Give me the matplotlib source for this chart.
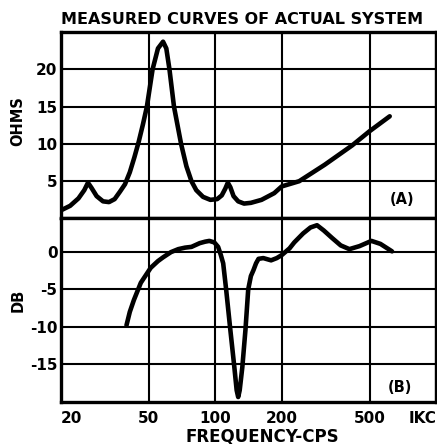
import matplotlib
matplotlib.use("Agg")
import matplotlib.pyplot as plt

# curve (A): impedance, ohms
freq_a = [20, 22, 24, 25.5, 26.5, 27.5, 29, 31, 33, 35, 37, 39, 41, 43, 45, 47, 49,
          52, 55, 58, 60, 62, 65, 70, 74, 78, 82, 88, 95, 102, 107, 111, 114, 117,
          121, 127, 135, 145, 162, 185, 200, 240, 313, 417, 500, 617]
ohms = [1.1, 1.7, 2.7, 3.8, 4.8, 4.1, 3.0, 2.3, 2.2, 2.6, 3.6, 4.6, 6.2, 8.2, 10.3, 12.6, 15.0,
        20.0, 22.8, 23.7, 22.8, 20.0, 15.0, 10.0, 7.0, 5.0, 3.8, 2.9, 2.5, 2.6, 3.1, 4.0, 4.8, 4.2,
        3.0, 2.3, 2.0, 2.1, 2.5, 3.4, 4.3, 5.0, 7.2, 9.8, 11.7, 13.7]

# curve (B): response, db
freq_b = [39.6, 41, 42.8, 46, 51, 55, 58, 63, 68, 73, 78, 85, 90, 94, 99, 103, 106, 108.6,
          112, 117, 122, 125, 127, 129, 132.6, 137, 141, 145, 149, 153, 157, 165, 179, 190,
          200, 217, 228, 250, 270, 289, 310, 338, 370, 405, 450, 510, 560, 632]
db = [-9.8, -8.0, -6.4, -4.1, -2.1, -1.2, -0.7, 0.0, 0.4, 0.6, 0.7, 1.2, 1.4, 1.5, 1.3, 0.7, -0.4, -1.5,
      -5.0, -10.4, -15.4, -18.5, -19.4, -18.5, -15.4, -10.4, -5.0, -3.2, -2.4, -1.5, -0.9, -0.8, -1.1, -0.8,
      -0.4, 0.5, 1.3, 2.5, 3.3, 3.6, 2.9, 1.9, 0.9, 0.4, 0.8, 1.5, 1.1, 0.1]

x_ticks = [20, 50, 100, 200, 500, 1000]
x_labels = ["20", "50", "100", "200", "500", "IKC"]
ohm_ticks = [5, 10, 15, 20]
db_ticks = [-15, -10, -5, 0]

plt.rcParams["font.family"] = "DejaVu Sans"
plt.rcParams["font.weight"] = "bold"
plt.rcParams["axes.unicode_minus"] = False

W, H = 437, 444
fig = plt.figure(figsize=(W / 100, H / 100), dpi=100)

left = 61 / W
width = 375 / W
ax1 = fig.add_axes([left, 1 - 218.5 / H, width, 186.5 / H])
ax2 = fig.add_axes([left, 1 - 401.5 / H, width, 183 / H], sharex=ax1)

line_kw = dict(color="black", lw=3.3, solid_capstyle="round", solid_joinstyle="round", zorder=3)
ax1.plot(freq_a, ohms, **line_kw)
ax2.plot(freq_b, db, **line_kw)

for ax in (ax1, ax2):
    ax.set_xscale("log")
    ax.set_xlim(20, 1000)
    ax.grid(True, color="black", lw=1.5)
    ax.tick_params(length=0, labelsize=11, pad=2.5)
    for s in ax.spines.values():
        s.set_linewidth(2.4)

ax1.set_ylim(0, 25)
ax1.set_yticks(ohm_ticks)
ax2.set_ylim(-20, 4.5)
ax2.set_yticks(db_ticks)

ax2.set_xticks(x_ticks)
ax2.set_xticklabels(x_labels)
ax2.minorticks_off()
ax1.minorticks_off()
ax2.tick_params(axis="x", pad=7)
ax1.tick_params(axis="x", labelbottom=False)
tl = ax2.get_xticklabels()
tl[0].set_ha("left")
tl[-1].set_ha("right")

ax1.text(700, 2.5, "(A)", ha="center", va="center", fontsize=10.5)
ax2.text(690, -18.1, "(B)", ha="center", va="center", fontsize=10.5)

fig.text(242 / W, 1 - 19 / H, "MEASURED CURVES OF ACTUAL SYSTEM",
         ha="center", va="center", fontsize=11.5)
fig.text(18 / W, 1 - 121 / H, "OHMS", rotation=90, ha="center", va="center", fontsize=10.5)
fig.text(18 / W, 1 - 300 / H, "DB", rotation=90, ha="center", va="center", fontsize=10.5)
fig.text(262 / W, 1 - 436 / H, "FREQUENCY-CPS", ha="center", va="center", fontsize=12)

fig.savefig("out.png", dpi=100)
